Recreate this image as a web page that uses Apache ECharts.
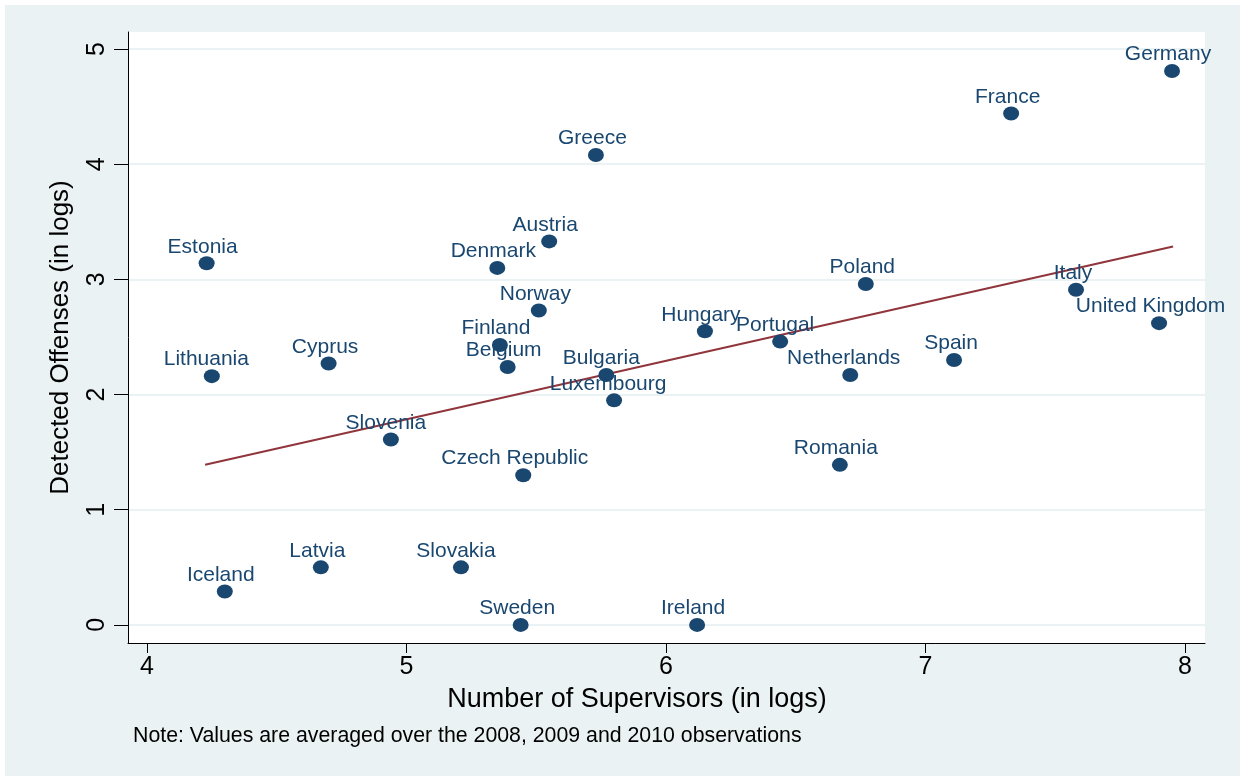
<!DOCTYPE html>
<html lang="en">
<head>
    <meta charset="UTF-8">
    <title>Supervisors vs detected offenses</title>
    <style>
        html, body { margin: 0; padding: 0; background: #eaf2f3; overflow: hidden; }
        #frame { position: absolute; left: 0; top: 0; right: 0; bottom: 0;
                 border-top: 5px solid #fff; border-left: 5px solid #fff; }
        #chart { width: 100%; height: 100%; }
    </style>
</head>
<body>
    <div id="frame"><div id="chart"></div></div>
    <script src="https://cdn.jsdelivr.net/npm/echarts@6/dist/echarts.min.js"></script>
    <script>
        // values (both axes in logs)
        var countries = ['Germany', 'France', 'Greece', 'Austria', 'Estonia', 'Denmark', 'Poland', 'Italy',
            'Norway', 'United Kingdom', 'Finland', 'Hungary', 'Portugal', 'Lithuania', 'Cyprus', 'Belgium',
            'Bulgaria', 'Spain', 'Netherlands', 'Luxembourg', 'Slovenia', 'Romania', 'Czech Republic',
            'Latvia', 'Slovakia', 'Iceland', 'Sweden', 'Ireland'];
        var supervisors = [7.95, 7.33, 5.73, 5.55, 4.23, 5.35, 6.77, 7.58,
            5.51, 7.90, 5.36, 6.15, 6.44, 4.25, 4.70, 5.39,
            5.77, 7.11, 6.71, 5.80, 4.94, 6.67, 5.45,
            4.67, 5.21, 4.30, 5.44, 6.12];
        var offenses = [4.81, 4.44, 4.08, 3.33, 3.14, 3.10, 2.96, 2.91,
            2.73, 2.62, 2.43, 2.55, 2.46, 2.16, 2.27, 2.24,
            2.17, 2.30, 2.17, 1.95, 1.61, 1.39, 1.30,
            0.50, 0.50, 0.29, 0.00, 0.00];

        // fitted line end points
        var fitX = [4.224, 7.954];
        var fitY = [1.39, 3.285];

        var xTicks = [4, 5, 6, 7, 8];
        var yTicks = [0, 1, 2, 3, 4, 5];

        var navy = '#1a476f';
        var font = 'Liberation Sans, Arial, sans-serif';

        // stata centres marker labels a little left of the marker,
        // extra right padding nudges the text left
        var points = countries.map(function (c, i) {
            return {
                name: c,
                value: [supervisors[i], offenses[i]],
                label: { padding: [0, Math.round(1.2 * c.length), 0, 0] }
            };
        });
        var fit = fitX.map(function (x, i) { return [x, fitY[i]]; });

        var chart = echarts.init(document.getElementById('chart'));

        chart.setOption({
            backgroundColor: '#eaf2f3',
            animation: false,
            textStyle: { fontFamily: font },
            title: [
                {
                    text: 'Number of Supervisors (in logs)',
                    left: 627, top: 676, textAlign: 'center',
                    textStyle: { fontSize: 27, fontWeight: 'normal', color: '#000', fontFamily: font }
                },
                {
                    text: 'Note: Values are averaged over the 2008, 2009 and 2010 observations',
                    left: 123, top: 716,
                    textStyle: { fontSize: 21.3, fontWeight: 'normal', color: '#000', fontFamily: font }
                }
            ],
            grid: {
                left: 123, top: 27, right: 35, bottom: 133,
                show: true, backgroundColor: '#fff', borderWidth: 0
            },
            xAxis: {
                type: 'value',
                min: 3.927, max: 8.077,
                axisLine: { show: true, onZero: false, lineStyle: { color: '#000', width: 1 } },
                axisTick: { show: true, customValues: xTicks, length: 10, lineStyle: { color: '#000' } },
                axisLabel: { customValues: xTicks, fontSize: 25, color: '#000', margin: 12 },
                splitLine: { show: false }
            },
            yAxis: {
                type: 'value',
                min: -0.157, max: 5.148,
                name: 'Detected Offenses (in logs)',
                nameLocation: 'middle',
                nameGap: 54,
                nameTextStyle: { fontSize: 26, color: '#000' },
                axisLine: { show: true, onZero: false, lineStyle: { color: '#000', width: 1 } },
                axisTick: { show: true, customValues: yTicks, length: 14, lineStyle: { color: '#000' } },
                axisLabel: { customValues: yTicks, fontSize: 25, color: '#000', rotate: 90, margin: 18 },
                splitLine: { show: true, lineStyle: { color: '#eaf2f3', width: 2 } }
            },
            series: [
                {
                    type: 'line',
                    data: fit,
                    symbol: 'none',
                    lineStyle: { color: '#90353b', width: 2 },
                    z: 2
                },
                {
                    type: 'scatter',
                    data: points,
                    symbol: 'path://M50,0A50,50 0 1,1 50,100A50,50 0 1,1 50,0Z',
                    symbolSize: [16, 14],
                    itemStyle: { color: navy, opacity: 1 },
                    label: {
                        show: true,
                        position: 'top',
                        distance: -1,
                        formatter: '{b}',
                        fontSize: 21,
                        color: navy
                    },
                    labelLayout: { hideOverlap: false },
                    z: 3
                }
            ]
        });
    </script>
</body>
</html>
